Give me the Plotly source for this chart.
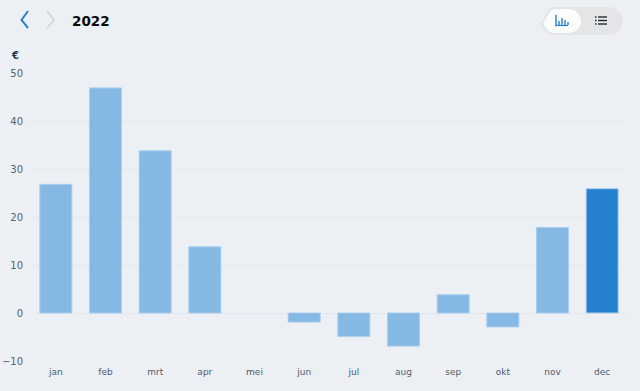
import plotly.graph_objects as go

months = ["jan","feb","mrt","apr","mei","jun","jul","aug","sep","okt","nov","dec"]
values = [26.8,46.9,33.8,13.8,0,-1.9,-4.9,-6.9,3.8,-2.9,17.8,25.9]
colors = ["#86B8E4"]*11 + ["#2680D0"]
tick_vals = [-10,0,10,20,30,40,50]

W,H = 640,391
L,R,T,B = 31,627,73,361
def X(p): return (p-L)/(R-L)
def Y(p): return (B-p)/(B-T)

fig = go.Figure(go.Bar(x=months,y=values,
    marker=dict(color=colors,line=dict(color="#A9CEEE",width=[1 if v else 0 for v in values])),width=0.645))

def line(pts,color,width):
    path = "M "+" L ".join(f"{X(a):.5f},{Y(b):.5f}" for a,b in pts)
    return dict(type="path",xref="paper",yref="paper",path=path,line=dict(color=color,width=width),layer="above")

def seg(x0,y0,x1,y1,color,width):
    return dict(type="line",xref="paper",yref="paper",x0=X(x0),y0=Y(y0),x1=X(x1),y1=Y(y1),line=dict(color=color,width=width),layer="above")

def round_rect(x0,y0,x1,y1,fill):
    r=(y1-y0)/2
    xr=r/(R-L); yr=r/(B-T)
    a,b,c,d=X(x0),X(x1),Y(y0),Y(y1)
    return dict(type="path",xref="paper",yref="paper",layer="above",fillcolor=fill,line=dict(width=0),
        path=f"M {a+xr},{c} L {b-xr},{c} C {b-xr*0.45},{c} {b},{c-yr*0.55} {b},{c-yr} C {b},{c-yr*1.55} {b-xr*0.45},{d} {b-xr},{d} "
             f"L {a+xr},{d} C {a+xr*0.45},{d} {a},{d+yr*0.55} {a},{d+yr} C {a},{d+yr*0.45} {a+xr*0.45},{c} {a+xr},{c} Z")

shapes = [
    line([(28,11),(21.5,20),(28,28)],"#2E7FC8",2),
    line([(47,11),(54,20),(47,28)],"#CFD3D8",1.5),
    round_rect(540,7,623,35,"#E3E5E6"),
    round_rect(543,9,581,33,"#FBFCFC"),
]
for x,t in [(556,15),(559,21),(562,18),(565,20),(568,22)]:
    shapes.append(seg(x,t,x,25,"#2E7FC8",1.4))
shapes.append(seg(555,25.5,568,25.5,"#2E7FC8",1.2))
for y in [17,20.5,24]:
    shapes.append(seg(595,y,596.5,y,"#222B33",1.4))
    shapes.append(seg(598,y,607,y,"#222B33",1.4))

fig.update_layout(
    width=W,height=H,autosize=False,
    margin=dict(l=L,r=W-R,t=T,b=H-B,pad=0),
    paper_bgcolor="#ECF0F5",plot_bgcolor="#ECF0F5",
    showlegend=False,bargap=0.355,
    font=dict(family="DejaVu Sans",size=10,color="#4A5568"),
    shapes=shapes,
    xaxis=dict(type="category",categoryorder="array",categoryarray=months,showgrid=False,showline=False,zeroline=False,
               ticks="outside",ticklen=2,tickcolor="rgba(0,0,0,0)",tickfont=dict(size=9,color="#4F5B6C"),automargin=False),
    yaxis=dict(range=[-10,50],tickvals=tick_vals,showgrid=True,gridcolor="#E3E9F1",gridwidth=1,zeroline=True,zerolinecolor="#E1E7F0",
               zerolinewidth=1,showline=False,ticks="outside",ticklen=5,tickcolor="rgba(0,0,0,0)",tickfont=dict(size=10,color="#555F6E"),automargin=False,layer="below traces"),
    annotations=[
        dict(xref="paper",yref="paper",x=X(70),y=Y(21),xanchor="left",yanchor="middle",text="<b>2022</b>",showarrow=False,
             font=dict(family="DejaVu Sans",size=13.5,color="#0A0A0A")),
        dict(xref="paper",yref="paper",x=X(15),y=Y(55),xanchor="center",yanchor="middle",text="<b>€</b>",showarrow=False,
             font=dict(family="DejaVu Sans",size=10,color="#1F2F50")),
    ],
)
fig.write_html("out.html",config=dict(displayModeBar=False),
    post_script="document.body.style.margin='0';document.body.style.background='#ECF0F5';")
